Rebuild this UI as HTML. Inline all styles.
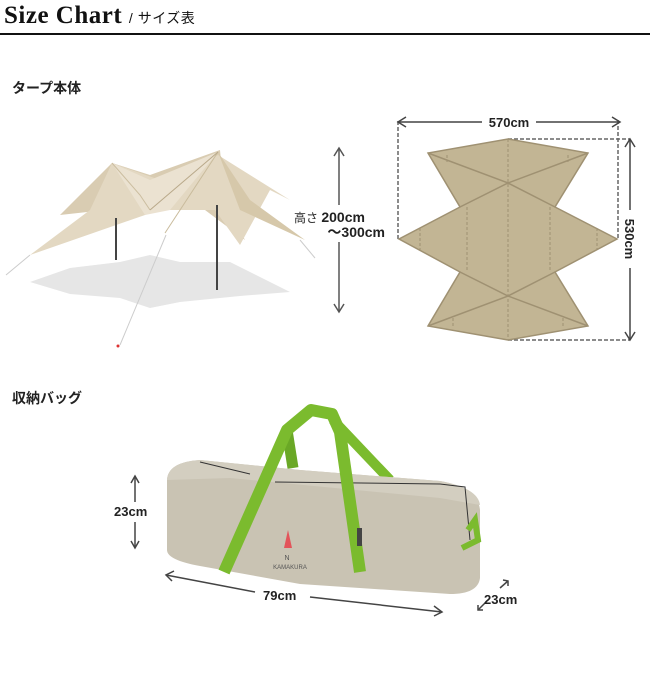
<!DOCTYPE html>
<html><head><meta charset="utf-8"><style>
body{margin:0;width:650px;height:680px;background:#fff;overflow:hidden;position:relative;font-family:"Liberation Sans","Noto Sans CJK JP",sans-serif;color:#222}
.t{position:absolute;white-space:nowrap}
</style></head><body>
<div class="t" style="left:4px;top:2px;font-family:'Liberation Serif',serif;font-weight:bold;font-size:25px;letter-spacing:0.5px;color:#111">Size Chart <span style="font-family:'Liberation Sans','Noto Sans CJK JP',sans-serif;font-weight:normal;font-size:14px">/ サイズ表</span></div>
<div style="position:absolute;left:0;top:33px;width:650px;height:2px;background:#111"></div>
<div class="t" style="left:12px;top:78px;font-weight:bold;font-size:14px;font-family:'Noto Sans CJK JP',sans-serif">タープ本体</div>
<div class="t" style="left:12px;top:388px;font-weight:bold;font-size:14px;font-family:'Noto Sans CJK JP',sans-serif">収納バッグ</div>
<svg width="650" height="680" style="position:absolute;left:0;top:0" font-family="Liberation Sans, Noto Sans CJK JP, sans-serif">
<!-- tarp shadow -->
<path d="M30,282 L70,268 L120,262 L150,255 L180,262 L230,262 L290,292 L240,296 L180,302 L150,308 L120,298 L70,294 Z" fill="#e6e6e6"/>
<!-- tarp 3D -->
<polygon points="112,163 150,175 220,150 225,205 245,240 205,210 150,205 60,215" fill="#d9ccb2"/>
<polygon points="112,163 160,180 218,155 290,200 270,190 240,245 215,210 160,210 145,215 30,255 90,210" fill="#e3d8c2"/>
<polygon points="218,152 250,200 305,240 240,210" fill="#d6c8aa"/>
<polygon points="112,163 150,180 218,152 170,210 145,215" fill="#ebe2d1"/>
<polyline points="112,163 140,195 150,210" fill="none" stroke="#cbbd9f" stroke-width="1"/>
<line x1="218" y1="152" x2="165" y2="233" stroke="#c9bb9c" stroke-width="1"/>
<line x1="218" y1="152" x2="150" y2="210" stroke="#b9a98a" stroke-width="1"/>
<line x1="116" y1="218" x2="116" y2="260" stroke="#444" stroke-width="2"/>
<line x1="217" y1="205" x2="217" y2="290" stroke="#444" stroke-width="2"/>
<line x1="166" y1="235" x2="120" y2="345" stroke="#ccc" stroke-width="1"/>
<line x1="30" y1="255" x2="6" y2="275" stroke="#ccc" stroke-width="1"/>
<line x1="300" y1="240" x2="315" y2="258" stroke="#ccc" stroke-width="1"/>
<circle cx="118" cy="346" r="1.5" fill="#d33"/>
<!-- height arrow -->
<g stroke="#555" stroke-width="1.5" fill="none">
<line x1="339" y1="148" x2="339" y2="205"/><line x1="339" y1="242" x2="339" y2="312"/>
<polyline points="334,156 339,148 344,156"/><polyline points="334,304 339,312 344,304"/>
</g>
<text x="294" y="222" font-size="12" fill="#222">高さ <tspan font-size="14" font-weight="bold">200cm</tspan></text>
<text x="385" y="237" font-size="14" font-weight="bold" fill="#222" text-anchor="end">～300cm</text>
<!-- flat tarp -->
<g stroke="#666" stroke-width="1.5" stroke-dasharray="4,2" fill="none">
<polyline points="398,239 398,120"/><polyline points="618,120 618,239"/>
<polyline points="508,139 630,139"/><polyline points="508,340 630,340"/>
</g>
<polygon points="508,139 588,153 555,207 617,239 555,272 588,326 508,340 428,326 460,272 399,239 460,207 428,153" fill="#c2b594" stroke="#9f9172" stroke-width="1.5"/>
<g stroke="#9f9172" stroke-width="1.5" fill="none">
<polyline points="428,153 508,183 588,153"/><polyline points="460,207 508,183 555,207"/>
<polyline points="428,326 508,296 588,326"/><polyline points="460,272 508,296 555,272"/>
</g>
<g stroke="#9f9172" stroke-width="1" stroke-dasharray="3,2">
<line x1="508" y1="139" x2="508" y2="340"/><line x1="467" y1="207" x2="467" y2="272"/><line x1="550" y1="207" x2="550" y2="272"/>
<line x1="420" y1="228" x2="420" y2="250"/><line x1="597" y1="228" x2="597" y2="250"/>
<line x1="447" y1="155" x2="447" y2="162"/><line x1="568" y1="155" x2="568" y2="162"/>
<line x1="453" y1="318" x2="453" y2="326"/><line x1="563" y1="318" x2="563" y2="326"/>
</g>
<g stroke="#444" stroke-width="1.5" fill="none">
<line x1="398" y1="122" x2="482" y2="122"/><line x1="536" y1="122" x2="620" y2="122"/>
<polyline points="406,117 398,122 406,127"/><polyline points="612,117 620,122 612,127"/>
<line x1="630" y1="139" x2="630" y2="210"/><line x1="630" y1="268" x2="630" y2="340"/>
<polyline points="625,147 630,139 635,147"/><polyline points="625,332 630,340 635,332"/>
</g>
<text x="509" y="127" font-size="13" font-weight="bold" text-anchor="middle" fill="#222">570cm</text>
<text transform="translate(625,239) rotate(90)" font-size="13" font-weight="bold" text-anchor="middle" fill="#222">530cm</text>
<!-- bag back straps -->
<path d="M287,430 L293,468" fill="none" stroke="#6aa826" stroke-width="11"/>
<path d="M333,420 L390,480" fill="none" stroke="#7bbb2e" stroke-width="10"/>
<!-- bag body -->
<path d="M167,480 Q168,462 200,460 L300,470 L440,481 Q478,488 480,510 L480,578 Q478,594 450,594 L300,584 L200,566 Q167,560 167,550 Z" fill="#c9c3b3"/>
<path d="M167,480 Q168,462 200,460 L300,470 L440,481 Q478,488 480,505 L440,498 L230,478 Z" fill="#d3cec0"/>
<path d="M200,462 L250,474 M275,482 L440,484 L465,487 L470,540" fill="none" stroke="#333" stroke-width="1"/>
<!-- front strap -->
<path d="M224,572 L287,430 L311,410 L332,414 L340,432 L360,572" fill="none" stroke="#7bbb2e" stroke-width="12" stroke-linejoin="round"/>
<path d="M462,548 L478,540 L475,520 L468,530" fill="none" stroke="#7bbb2e" stroke-width="6"/>
<polygon points="284,548 288,530 292,548" fill="#e3545a"/>
<text x="287" y="560" font-size="7" text-anchor="middle" fill="#555">N</text>
<text x="290" y="569" font-size="6" text-anchor="middle" fill="#555">KAMAKURA</text>
<rect x="357" y="528" width="5" height="18" fill="#444"/>
<!-- bag arrows -->
<g stroke="#444" stroke-width="1.5" fill="none">
<line x1="135" y1="476" x2="135" y2="502"/><line x1="135" y1="522" x2="135" y2="548"/>
<polyline points="131,483 135,476 139,483"/><polyline points="131,541 135,548 139,541"/>
<line x1="166" y1="575" x2="255" y2="592"/><line x1="310" y1="597" x2="442" y2="612"/>
<polyline points="174,571 166,575 172,581"/><polyline points="434,606 442,612 434,616"/>
<line x1="508" y1="581" x2="500" y2="588"/><polyline points="503,580 508,581 508,586"/>
<line x1="478" y1="610" x2="486" y2="602"/><polyline points="478,605 478,610 483,610"/>
</g>
<text x="114" y="516" font-size="13" font-weight="bold" fill="#222">23cm</text>
<text x="263" y="600" font-size="13" font-weight="bold" fill="#222">79cm</text>
<text x="484" y="604" font-size="13" font-weight="bold" fill="#222">23cm</text>
</svg>
</body></html>
